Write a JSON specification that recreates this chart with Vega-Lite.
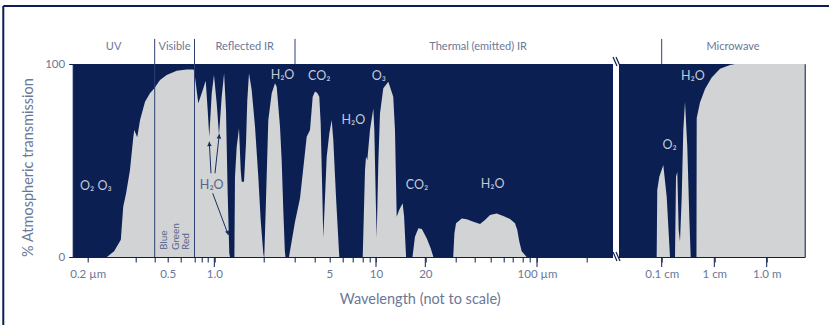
{
  "$schema": "https://vega.github.io/schema/vega-lite/v6.json",
  "width": 732,
  "height": 193,
  "autosize": {"type": "none"},
  "padding": {"left": 72.7, "top": 64, "right": 24.3, "bottom": 68},
  "background": "white",
  "config": {
    "view": {"fill": "#0b1f52", "stroke": "#0b1f52", "strokeWidth": 1},
    "font": "Lato",
    "text": {"font": "Lato"}
  },
  "datasets": {
    "trans": [
      {"w": 0.24, "t": 0}, {"w": 0.255, "t": 3}, {"w": 0.269, "t": 9}, {"w": 0.274, "t": 26},
      {"w": 0.28, "t": 33}, {"w": 0.288, "t": 45}, {"w": 0.295, "t": 62}, {"w": 0.297, "t": 65.8},
      {"w": 0.308, "t": 62}, {"w": 0.323, "t": 71}, {"w": 0.349, "t": 80.5}, {"w": 0.375, "t": 84.8},
      {"w": 0.398, "t": 87.4}, {"w": 0.441, "t": 91.7}, {"w": 0.492, "t": 94.3}, {"w": 0.568, "t": 96.5},
      {"w": 0.642, "t": 97.2}, {"w": 0.691, "t": 97.2}, {"w": 0.698, "t": 96.5}, {"w": 0.754, "t": 79.6},
      {"w": 0.803, "t": 84.8}, {"w": 0.868, "t": 91.3}, {"w": 0.9, "t": 76}, {"w": 0.924, "t": 62.3},
      {"w": 0.961, "t": 84.8}, {"w": 0.995, "t": 94.3}, {"w": 1.049, "t": 79.6}, {"w": 1.096, "t": 63.2},
      {"w": 1.151, "t": 83}, {"w": 1.2, "t": 95.2}, {"w": 1.239, "t": 76}, {"w": 1.273, "t": 33},
      {"w": 1.306, "t": 2}, {"w": 1.32, "t": 0}, {"w": 1.41, "t": 0}, {"w": 1.422, "t": 41.6},
      {"w": 1.457, "t": 57}, {"w": 1.504, "t": 66.7}, {"w": 1.539, "t": 45}, {"w": 1.559, "t": 39},
      {"w": 1.606, "t": 39}, {"w": 1.647, "t": 59}, {"w": 1.673, "t": 81}, {"w": 1.708, "t": 95.2},
      {"w": 1.763, "t": 86.5}, {"w": 1.831, "t": 67.5}, {"w": 1.898, "t": 41.6}, {"w": 1.947, "t": 19},
      {"w": 2.0, "t": 2}, {"w": 2.022, "t": 0}, {"w": 2.03, "t": 0}, {"w": 2.085, "t": 29.5},
      {"w": 2.158, "t": 71}, {"w": 2.265, "t": 84.8}, {"w": 2.369, "t": 90}, {"w": 2.423, "t": 88.2},
      {"w": 2.527, "t": 67.5}, {"w": 2.58, "t": 50}, {"w": 2.631, "t": 24.4}, {"w": 2.68, "t": 3},
      {"w": 2.7, "t": 0}, {"w": 2.81, "t": 0}, {"w": 3.0, "t": 18.3}, {"w": 3.26, "t": 30.4},
      {"w": 3.606, "t": 62.3}, {"w": 3.777, "t": 65.8}, {"w": 3.917, "t": 83}, {"w": 4.047, "t": 85.7},
      {"w": 4.2, "t": 85}, {"w": 4.333, "t": 83}, {"w": 4.427, "t": 69}, {"w": 4.513, "t": 40},
      {"w": 4.6, "t": 10}, {"w": 4.827, "t": 52}, {"w": 5.0, "t": 64}, {"w": 5.179, "t": 71},
      {"w": 5.299, "t": 60.6}, {"w": 5.5, "t": 31.2}, {"w": 5.746, "t": 0}, {"w": 8.0, "t": 0},
      {"w": 8.35, "t": 45}, {"w": 8.5, "t": 52}, {"w": 8.7, "t": 50.3}, {"w": 9.1, "t": 65.8},
      {"w": 9.6, "t": 77}, {"w": 9.75, "t": 65.8}, {"w": 9.96, "t": 31}, {"w": 10.14, "t": 10},
      {"w": 10.47, "t": 48.7}, {"w": 10.81, "t": 74.4}, {"w": 11.48, "t": 87.4}, {"w": 12.5, "t": 90.8},
      {"w": 13.5, "t": 83}, {"w": 13.85, "t": 65.8}, {"w": 14.05, "t": 40}, {"w": 14.2, "t": 20.9},
      {"w": 14.7, "t": 24.4}, {"w": 15.4, "t": 27.8}, {"w": 15.7, "t": 21}, {"w": 16.1, "t": 0},
      {"w": 17.4, "t": 0}, {"w": 17.9, "t": 10.5}, {"w": 18.6, "t": 14.9}, {"w": 19.3, "t": 14.5},
      {"w": 20.47, "t": 9.7}, {"w": 21.8, "t": 4.5}, {"w": 22.7, "t": 0}, {"w": 29.3, "t": 0},
      {"w": 29.7, "t": 12.3}, {"w": 30.4, "t": 17.5}, {"w": 33.4, "t": 20}, {"w": 36.0, "t": 19.5},
      {"w": 39.5, "t": 18.3}, {"w": 43.5, "t": 17.1}, {"w": 46.5, "t": 19.2}, {"w": 49.6, "t": 21.8},
      {"w": 54.6, "t": 22.6}, {"w": 59.7, "t": 21.2}, {"w": 67, "t": 19.7}, {"w": 72.3, "t": 17.5},
      {"w": 74.6, "t": 14}, {"w": 76.6, "t": 8}, {"w": 79, "t": 3}, {"w": 86, "t": 0},
      {"w": 941, "t": 0}, {"w": 948, "t": 34.7}, {"w": 972, "t": 41.6}, {"w": 1274, "t": 47.7},
      {"w": 1856, "t": 31.2}, {"w": 2420, "t": 0}, {"w": 3276, "t": 0}, {"w": 3447, "t": 41.6},
      {"w": 3669, "t": 44.2}, {"w": 3909, "t": 14}, {"w": 4131, "t": 8}, {"w": 4422, "t": 31},
      {"w": 4696, "t": 65.8}, {"w": 4987, "t": 80.5}, {"w": 5380, "t": 57}, {"w": 5722, "t": 21},
      {"w": 5962, "t": 0}, {"w": 6950, "t": 0}, {"w": 6989, "t": 72}, {"w": 7553, "t": 80},
      {"w": 8409, "t": 87}, {"w": 9555, "t": 93}, {"w": 117700, "t": 97.5}, {"w": 306600, "t": 99.5},
      {"w": 401000, "t": 100}, {"w": 30000000, "t": 100}
    ],
    "gap": [{"w": 300, "w2": 500, "t": -0.6, "t2": 100.6}],
    "seps": [
      {"w": 0.4, "t": 0, "t2": 113}, {"w": 0.7, "t": 0, "t2": 113},
      {"w": 3, "t": 100, "t2": 113}, {"w": 1000, "t": 100, "t2": 113}
    ],
    "bigticks": [
      {"w": 1, "t": 0, "t2": -5.2}, {"w": 10, "t": 0, "t2": -5.2}, {"w": 20, "t": 0, "t2": -5.2},
      {"w": 100, "t": 0, "t2": -5.2}, {"w": 1000, "t": 0, "t2": -5.2}, {"w": 10000, "t": 0, "t2": -5.2},
      {"w": 1000000, "t": 0, "t2": -5.2}
    ],
    "regions": [
      {"w": 0.254, "t": 108.8, "label": "UV"},
      {"w": 0.551, "t": 108.8, "label": "Visible"},
      {"w": 1.62, "t": 108.8, "label": "Reflected IR"},
      {"w": 42.3, "t": 108.8, "label": "Thermal (emitted) IR"},
      {"w": 363300, "t": 108.8, "label": "Microwave"}
    ],
    "gases": [
      {"w": 0.217, "t": 37, "label": "O₂ O₃", "kind": "light"},
      {"w": 0.961, "t": 37.3, "label": "H₂O", "kind": "dark"},
      {"w": 2.606, "t": 94.3, "label": "H₂O", "kind": "light"},
      {"w": 4.327, "t": 93.8, "label": "CO₂", "kind": "light"},
      {"w": 10.6, "t": 93.8, "label": "O₃", "kind": "light"},
      {"w": 7.1, "t": 71, "label": "H₂O", "kind": "light"},
      {"w": 18.3, "t": 37.3, "label": "CO₂", "kind": "light"},
      {"w": 51.4, "t": 37.7, "label": "H₂O", "kind": "light"},
      {"w": 2369, "t": 58, "label": "O₂", "kind": "light"},
      {"w": 6321, "t": 94, "label": "H₂O", "kind": "light"}
    ],
    "bands": [
      {"w": 0.472, "t": 3.6, "label": "Blue"},
      {"w": 0.56, "t": 3.6, "label": "Green"},
      {"w": 0.637, "t": 3.6, "label": "Red"}
    ],
    "arrows": [
      {"w": 0.95, "t": 43.4, "w2": 0.924, "t2": 59.7},
      {"w": 1.014, "t": 43.4, "w2": 1.102, "t2": 63.7},
      {"w": 0.976, "t": 33, "w2": 1.286, "t2": 11.4}
    ],
    "heads": [
      {"id": "a1", "w": 0.925, "t": 58.5},
      {"id": "a2", "w": 1.098, "t": 62.5},
      {"id": "a3", "w": 1.278, "t": 12.5}
    ],
    "breaks": [
      {"w": 300, "t": 103.6, "w2": 433, "t2": 99},
      {"w": 400, "t": 103.6, "w2": 512, "t2": 99},
      {"w": 300, "t": 2.6, "w2": 433, "t2": -2.1},
      {"w": 400, "t": 2.6, "w2": 512, "t2": -2.1}
    ],
    "frame": [
      {"w": 0.0593, "t": 130, "w2": 0.0593, "t2": -40},
      {"w": 0.0593, "t": 130, "w2": 100000000, "t2": 130}
    ]
  },
  "encoding": {
    "x": {
      "field": "w",
      "type": "quantitative",
      "scale": {
        "type": "linear",
        "nice": false,
        "zero": false,
        "domain": [0.175, 0.2, 0.3, 0.4, 0.5, 0.6, 0.7, 0.8, 0.9, 1, 2, 3, 4, 5, 6, 7, 8, 9, 10, 20, 30, 40, 50, 60, 70, 80, 90, 100, 200, 300, 500, 1000, 10000, 1000000, 30000000],
        "range": [0, 15, 63, 82, 95, 108.3, 121.8, 128.8, 135, 141.6, 190.6, 222.3, 241.6, 256.6, 270, 279.6, 290, 296.6, 303.3, 352.6, 382.6, 401.6, 418, 431, 440, 450, 456.6, 464.3, 514, 540.3, 546.3, 589, 641.6, 694, 732]
      },
      "axis": {
        "values": [0.2, 0.3, 0.4, 0.5, 0.6, 0.7, 0.8, 0.9, 1, 2, 3, 4, 5, 6, 7, 8, 9, 10, 20, 30, 40, 50, 60, 70, 80, 90, 100, 200, 1000, 10000, 1000000],
        "labelExpr": "datum.value == 0.2 ? '0.2 µm' : datum.value == 0.5 ? '0.5' : datum.value == 1 ? '1.0' : datum.value == 5 ? '5' : datum.value == 10 ? '10' : datum.value == 20 ? '20' : datum.value == 100 ? '100 µm' : datum.value == 1000 ? '0.1 cm' : datum.value == 10000 ? '1 cm' : datum.value == 1000000 ? '1.0 m' : ''",
        "domain": false,
        "grid": false,
        "tickColor": "#0b1f52",
        "tickSize": 5,
        "tickWidth": 1,
        "labelColor": "#6a7898",
        "labelFontSize": 11.5,
        "labelFont": "Lato",
        "labelPadding": 6,
        "labelOverlap": false,
        "labelFlush": false,
        "title": "Wavelength (not to scale)",
        "titleFont": "Lato",
        "titleFontSize": 14.5,
        "titleFontWeight": "normal",
        "titleColor": "#6a7898",
        "titleX": 347,
        "titleY": 42,
        "titleAlign": "center",
        "titleBaseline": "middle"
      }
    },
    "y": {
      "field": "t",
      "type": "quantitative",
      "scale": {"domain": [0, 100], "nice": false},
      "axis": {
        "values": [0, 100],
        "domain": false,
        "grid": false,
        "tickColor": "#0b1f52",
        "tickSize": 4,
        "labelColor": "#6a7898",
        "labelFontSize": 11.5,
        "labelFont": "Lato",
        "labelPadding": 4,
        "title": "% Atmospheric transmission",
        "titleFont": "Lato",
        "titleFontSize": 14.5,
        "titleFontWeight": "normal",
        "titleColor": "#6a7898",
        "titleAngle": 270,
        "titleX": -44.4,
        "titleY": 103,
        "titleAlign": "center",
        "titleBaseline": "middle"
      }
    }
  },
  "layer": [
    {"data": {"name": "trans"}, "mark": {"type": "area", "color": "#d1d3d4", "interpolate": "linear"}},
    {"data": {"name": "gap"}, "mark": {"type": "rect", "color": "white"}, "encoding": {"x2": {"field": "w2"}, "y2": {"field": "t2"}}},
    {"data": {"name": "seps"}, "mark": {"type": "rule", "color": "#2e4170", "strokeWidth": 1}, "encoding": {"y2": {"field": "t2"}}},
    {"data": {"name": "bigticks"}, "mark": {"type": "rule", "color": "#0b1f52", "strokeWidth": 1}, "encoding": {"y2": {"field": "t2"}}},
    {"data": {"name": "regions"}, "mark": {"type": "text", "fontSize": 11, "color": "#6a7898", "align": "center", "baseline": "middle"}, "encoding": {"text": {"field": "label"}}},
    {"data": {"name": "gases"}, "mark": {"type": "text", "fontSize": 12.5, "align": "center", "baseline": "middle"}, "encoding": {"text": {"field": "label"}, "color": {"field": "kind", "type": "nominal", "scale": {"domain": ["light", "dark"], "range": ["#c3c9d6", "#56668c"]}, "legend": null}}},
    {"data": {"name": "bands"}, "mark": {"type": "text", "fontSize": 10, "angle": 270, "align": "left", "baseline": "middle", "color": "#56668c"}, "encoding": {"text": {"field": "label"}}},
    {"data": {"name": "arrows"}, "mark": {"type": "rule", "color": "#1a2d5e", "strokeWidth": 1}, "encoding": {"x2": {"field": "w2"}, "y2": {"field": "t2"}}},
    {"data": {"name": "heads"}, "transform": [{"filter": "datum.id == 'a1'"}], "mark": {"type": "point", "shape": "triangle-up", "filled": true, "color": "#1a2d5e", "size": 22, "angle": 357, "opacity": 1}},
    {"data": {"name": "heads"}, "transform": [{"filter": "datum.id == 'a2'"}], "mark": {"type": "point", "shape": "triangle-up", "filled": true, "color": "#1a2d5e", "size": 22, "angle": 6, "opacity": 1}},
    {"data": {"name": "heads"}, "transform": [{"filter": "datum.id == 'a3'"}], "mark": {"type": "point", "shape": "triangle-up", "filled": true, "color": "#1a2d5e", "size": 22, "angle": 160, "opacity": 1}},
    {"data": {"name": "breaks"}, "mark": {"type": "rule", "color": "#0b1f52", "strokeWidth": 1.2}, "encoding": {"x2": {"field": "w2"}, "y2": {"field": "t2"}}},
    {"data": {"name": "frame"}, "mark": {"type": "rule", "color": "#0b1f52", "strokeWidth": 2}, "encoding": {"x2": {"field": "w2"}, "y2": {"field": "t2"}}}
  ]
}
